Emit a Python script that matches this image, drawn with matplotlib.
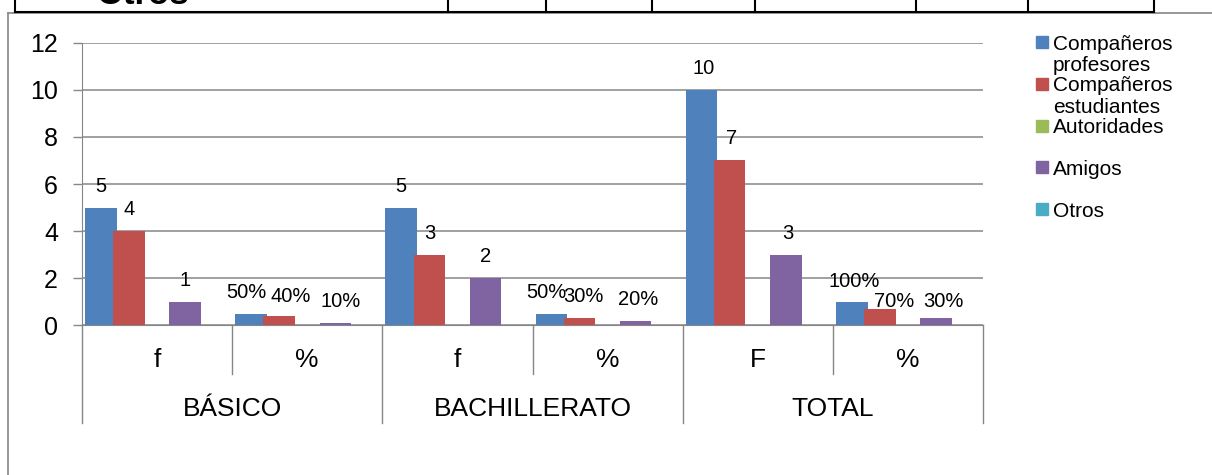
import numpy as np
import matplotlib
matplotlib.use("Agg")
import matplotlib.pyplot as plt
import matplotlib.transforms as mtransforms
from matplotlib.patches import Rectangle
from matplotlib.lines import Line2D

plt.rcParams['font.family'] = ['Liberation Sans', 'DejaVu Sans']

W, H = 1212, 475

# data
sub_labels = ['f', '%', 'f', '%', 'F', '%']
groups = ['BÁSICO', 'BACHILLERATO', 'TOTAL']
is_pct = [False, True, False, True, False, True]

series_names = ['Compañeros\nprofesores', 'Compañeros\nestudiantes', 'Autoridades', 'Amigos', 'Otros']
profesores = [5, 0.5, 5, 0.5, 10, 1.0]
estudiantes = [4, 0.4, 3, 0.3, 7, 0.7]
autoridades = [np.nan] * 6
amigos = [1, 0.1, 2, 0.2, 3, 0.3]
otros = [np.nan] * 6
all_series = [profesores, estudiantes, autoridades, amigos, otros]
colors = ['#4F81BD', '#C0504D', '#9BBB59', '#8064A2', '#4BACC6']

# label nudges in pixels (dx, dy), Excel moved a few to avoid overlaps
nudges = [
    [(0, 0), (-5, 0), (0, 0), (-5, 0), (2, 0), (2, -1)],
    [(0, 0), (12, -2), (0, 0), (4, 0), (2, 0), (14, -14)],
    [(0, 0)] * 6,
    [(0, 0), (5, 0), (0, 0), (2, 0), (2, 0), (7, -4.5)],
    [(0, 0)] * 6,
]

grey = '#868686'
px = 0.72  # points per pixel at 100 dpi

fig = plt.figure(figsize=(W / 100, H / 100), dpi=100)
ax_top, ax_bot = 42.7, 325.3
ax = fig.add_axes([82 / W, 1 - ax_bot / H, (983 - 82) / W, (ax_bot - ax_top) / H])
ax_h = ax_bot - ax_top

x = np.arange(len(sub_labels))
step, width = 0.187, 0.21
for i, (vals, c) in enumerate(zip(all_series, colors)):
    pos = x + (i - 2) * step
    ax.bar(pos, vals, width, color=c, zorder=3)
    for k, v in enumerate(vals):
        if np.isnan(v):
            continue
        txt = f"{int(round(v * 100))}%" if is_pct[k] else f"{v:g}"
        dx, dy = nudges[i][k]
        ax.annotate(txt, (pos[k], v), xytext=(dx * px, (16 + dy) * px),
                    textcoords='offset points', ha='center', va='baseline',
                    fontsize=14.5, zorder=5)

ax.set_xlim(-0.5, 5.5)
ax.set_ylim(0, 12)
ax.set_yticks(range(0, 13, 2))
ax.yaxis.grid(True, color=grey, lw=1.1)
ax.set_axisbelow(True)
for s in ['top', 'right']:
    ax.spines[s].set_visible(False)
ax.spines['left'].set_color(grey)
ax.spines['bottom'].set_color(grey)
ax.tick_params(axis='y', length=6.5, width=1.0, color=grey, pad=10.8, labelsize=18)
ax.set_xticks(x, sub_labels)
ax.tick_params(axis='x', length=0, pad=16.5, labelsize=19)

# two-level category axis
trans = mtransforms.blended_transform_factory(ax.transData, ax.transAxes)
long_y = -(423 - ax_bot) / ax_h
short_y = -(374 - ax_bot) / ax_h
for xp in [-0.5, 1.5, 3.5, 5.5]:
    ax.plot([xp, xp], [0, long_y], transform=trans, color=grey, lw=1.0, clip_on=False)
for xp in [0.5, 2.5, 4.5]:
    ax.plot([xp, xp], [0, short_y], transform=trans, color=grey, lw=1.0, clip_on=False)
for g, name in enumerate(groups):
    ax.text(2 * g + 0.5, -(415.5 - ax_bot) / ax_h, name, transform=trans,
            ha='center', va='baseline', fontsize=19)

# legend drawn by hand so the two-line names hang below their square
for i, (name, c) in enumerate(zip(series_names, colors)):
    cy = 42 + i * 41.8
    fig.patches.append(Rectangle((1036 / W, 1 - (cy + 6) / H), 12 / W, 12 / H,
                                 transform=fig.transFigure, color=c))
    for j, line in enumerate(name.split('\n')):
        fig.text(1053 / W, 1 - (cy + 7.5 + j * 21.5) / H, line, fontsize=15, va='baseline')

# chart frame and the bottom of the table above it
fig.lines.append(Line2D([8 / W, 1], [1 - 12.7 / H] * 2, transform=fig.transFigure, color=grey, lw=1.2))
fig.lines.append(Line2D([8 / W] * 2, [0, 1 - 12.7 / H], transform=fig.transFigure, color=grey, lw=1.2))
fig.lines.append(Line2D([15 / W, 1153.5 / W], [1 - 11.7 / H] * 2, transform=fig.transFigure, color='black', lw=1.5))
for xv in [15, 448, 545.6, 651.5, 755, 915.8, 1028, 1153.5]:
    fig.lines.append(Line2D([xv / W] * 2, [1 - 11.7 / H, 1], transform=fig.transFigure, color='black', lw=1.5))
# the table's last row label, cut by the top edge as in the reference
fig.text(97 / W, 1 - 4 / H, 'Otros', fontsize=25, fontweight='bold', va='baseline')

fig.savefig('out.png', dpi=100, facecolor='white')
